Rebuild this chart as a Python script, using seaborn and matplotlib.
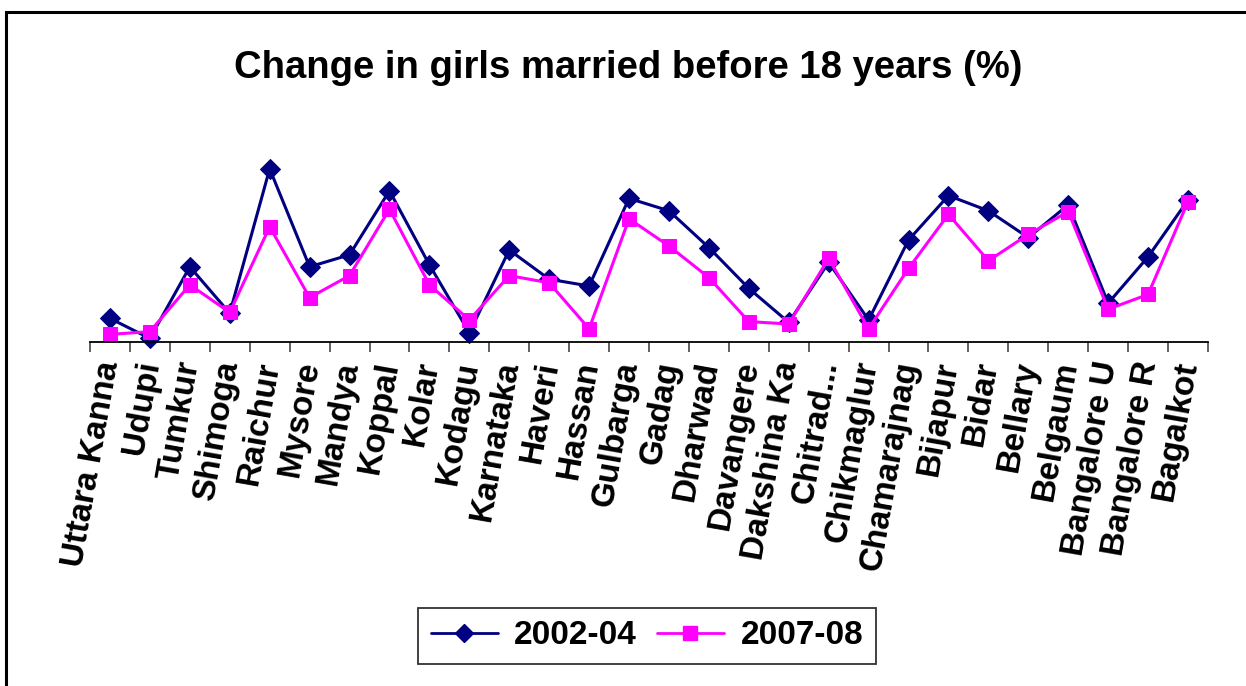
import matplotlib
matplotlib.use("Agg")
import matplotlib.pyplot as plt
from matplotlib.patches import Rectangle
from matplotlib.ticker import FixedLocator
import seaborn as sns
import pandas as pd
import numpy as np

districts = ["Uttara Kanna", "Udupi", "Tumkur", "Shimoga", "Raichur", "Mysore",
             "Mandya", "Koppal", "Kolar", "Kodagu", "Karnataka", "Haveri", "Hassan",
             "Gulbarga", "Gadag", "Dharwad", "Davangere", "Dakshina Ka", "Chitrad...",
             "Chikmaglur", "Chamarajnag", "Bijapur", "Bidar", "Bellary", "Belgaum",
             "Bangalore U", "Bangalore R", "Bagalkot"]

series_names = ["2002-04", "2007-08"]

vals_2002_04 = [5.9, 0.9, 18.8, 7.2, 43.3, 18.8, 21.8, 37.8, 19.3, 2.3,
                23.0, 15.7, 14.0, 35.9, 32.8, 23.6, 13.4, 4.9, 19.9, 5.5,
                25.5, 36.6, 32.8, 26.1, 34.3, 9.7, 21.3, 35.5]

vals_2007_08 = [1.9, 2.6, 14.3, 7.4, 28.8, 11.1, 16.6, 33.2, 14.3, 5.5,
                16.6, 14.8, 3.3, 30.8, 24.0, 16.1, 5.1, 4.5, 20.9, 3.3,
                18.4, 31.9, 20.3, 26.9, 32.6, 8.2, 11.9, 35.1]

sns.set_theme(style="white")
plt.rcParams["font.family"] = ["Liberation Sans", "DejaVu Sans"]
plt.rcParams["text.color"] = "black"
plt.rcParams["xtick.color"] = "black"
plt.rcParams["axes.labelcolor"] = "black"

W, H = 1246, 686
fig = plt.figure(figsize=(W / 100, H / 100), dpi=100)
fig.patch.set_facecolor("white")

ax = fig.add_axes([90 / W, 1 - 342 / H, (1208 - 90) / W, 200 / H])
ax.set_facecolor("white")

pos = list(range(len(districts)))
df = pd.DataFrame({
    "pos": pos * 2,
    "district": districts * 2,
    "value": vals_2002_04 + vals_2007_08,
    "series": [series_names[0]] * len(districts) + [series_names[1]] * len(districts),
})

colors = {"2002-04": "#000080", "2007-08": "#FF00FF"}
markers = {"2002-04": "D", "2007-08": "s"}
msizes = {"2002-04": 10, "2007-08": 10.5}

for s in series_names:
    sub = df[df["series"] == s]
    sns.lineplot(data=sub, x="pos", y="value", ax=ax, color=colors[s],
                 marker=markers[s], markersize=msizes[s], markeredgecolor=colors[s],
                 markerfacecolor=colors[s], linewidth=2.2, sort=False, label=s,
                 legend=False, zorder=3 if s == "2002-04" else 4)

ax.set_xlim(-0.5, len(districts) - 0.5)
ax.set_ylim(0, 50)
ax.set_xlabel("")
ax.set_ylabel("")
ax.set_yticks([])

for sp in ["top", "right", "left"]:
    ax.spines[sp].set_visible(False)
ax.spines["bottom"].set_color("black")
ax.spines["bottom"].set_linewidth(1.3)
ax.spines["bottom"].set_zorder(5)
for l in ax.lines:
    l.set_clip_on(False)

ax.set_xticks(pos)
ax.set_xticklabels(districts, rotation=80, ha="right", va="center",
                   rotation_mode="anchor", fontsize=24, fontweight="bold",
                   color="black")
ax.tick_params(axis="x", which="major", length=0, pad=14)
ax.xaxis.set_minor_locator(FixedLocator(np.arange(-0.5, len(districts), 1.0)))
ax.tick_params(axis="x", which="minor", length=7, width=1.3, color="#555555",
               direction="out", bottom=True)

fig.text(628 / W, 1 - 68 / H, "Change in girls married before 18 years (%)",
         ha="center", va="center", fontsize=27.5, fontweight="bold", color="black")

handles = [
    plt.Line2D([], [], color=colors[s], marker=markers[s], markersize=msizes[s] * 0.9,
               markerfacecolor=colors[s], markeredgecolor=colors[s], linewidth=2)
    for s in series_names
]
leg = fig.legend(handles, series_names, loc="center",
                 bbox_to_anchor=(647 / W, 1 - 636 / H), ncol=2,
                 prop={"size": 24, "weight": "bold"}, frameon=True, fancybox=False,
                 edgecolor="black", handlelength=2.0, columnspacing=0.6,
                 handletextpad=0.5, borderpad=0.38, borderaxespad=0)
leg.get_frame().set_linewidth(1.3)
for t in leg.get_texts():
    t.set_color("black")

# figure border (cut off at right and bottom)
fig.add_artist(Rectangle((6 / W, -0.05), 1.2, 1 - 12 / H + 0.05,
                         transform=fig.transFigure, fill=False,
                         edgecolor="black", linewidth=2.2))

fig.savefig("out.png", dpi=100, facecolor="white")
